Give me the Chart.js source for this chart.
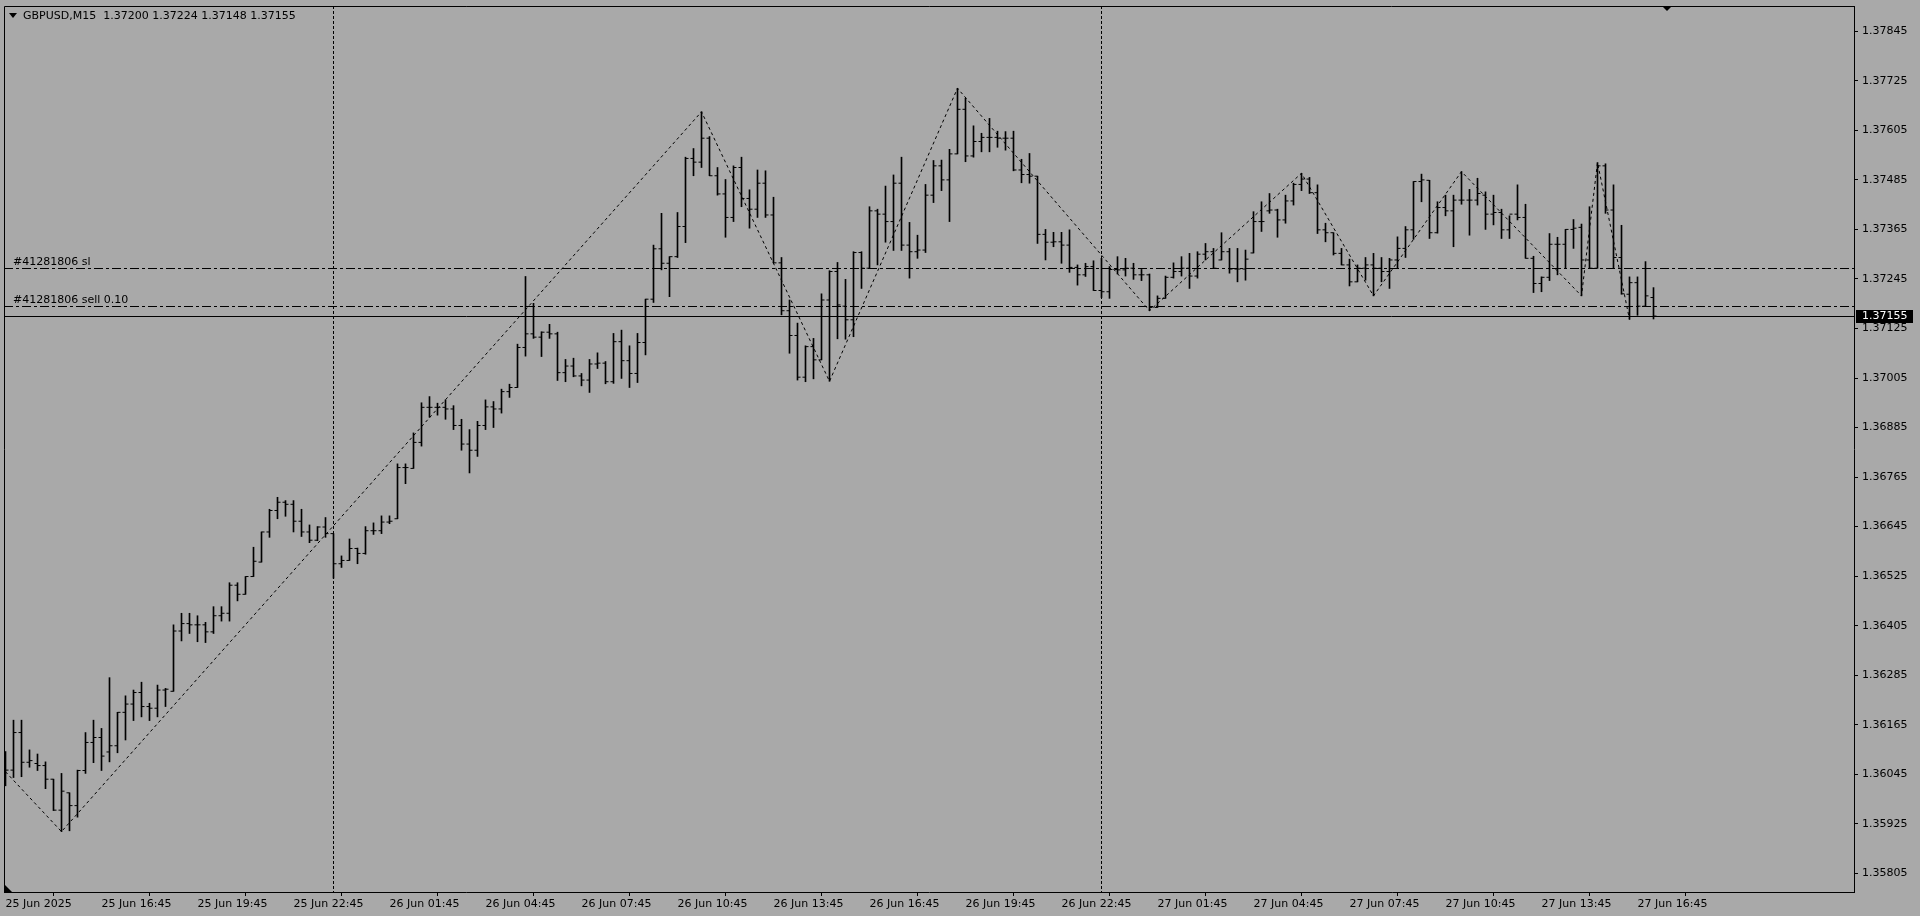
<!DOCTYPE html>
<html><head><meta charset="utf-8">
<script src="https://cdn.jsdelivr.net/npm/chart.js@4.4.1/dist/chart.umd.min.js"></script>
<style>html,body{margin:0;padding:0;background:#a9a9a9;overflow:hidden}canvas{display:block}</style>
</head><body><canvas id="c" width="1920" height="916"></canvas>
<script>
const symbolTitle = 'GBPUSD,M15';
const lastQuote = ['1.37200','1.37224','1.37148','1.37155'];

const openP = [1.36075,1.36055,1.36146,1.36074,1.36071,1.36066,1.36033,1.35958,1.36000,1.35969,
1.36054,1.36122,1.36134,1.36099,1.36114,1.36195,1.36215,1.36243,1.36209,1.36205,
1.36249,1.36246,1.36392,1.36410,1.36407,1.36407,1.36390,1.36429,1.36435,1.36503,
1.36481,1.36524,1.36559,1.36632,1.36684,1.36704,1.36699,1.36658,1.36632,1.36612,
1.36644,1.36628,1.36555,1.36563,1.36592,1.36580,1.36635,1.36635,1.36656,1.36664,
1.36788,1.36786,1.36849,1.36934,1.36934,1.36934,1.36930,1.36890,1.36845,1.36830,
1.36890,1.36935,1.36930,1.36972,1.36982,1.37079,1.37112,1.37104,1.37116,1.37112,
1.37018,1.37034,1.37010,1.37000,1.37039,1.37041,1.36996,1.37093,1.37047,1.37016,
1.37091,1.37196,1.37318,1.37283,1.37299,1.37372,1.37537,1.37528,1.37586,1.37495,
1.37451,1.37394,1.37515,1.37440,1.37414,1.37477,1.37400,1.37284,1.37168,1.37108,
1.37007,1.37081,1.37049,1.37194,1.37263,1.37179,1.37146,1.37309,1.37271,1.37410,
1.37402,1.37384,1.37477,1.37327,1.37311,1.37315,1.37448,1.37519,1.37485,1.37548,
1.37656,1.37543,1.37578,1.37588,1.37588,1.37586,1.37586,1.37509,1.37498,1.37494,
1.37353,1.37334,1.37335,1.37327,1.37273,1.37255,1.37275,1.37217,1.37214,1.37268,
1.37267,1.37271,1.37255,1.37255,1.37176,1.37198,1.37249,1.37263,1.37271,1.37252,
1.37305,1.37311,1.37291,1.37311,1.37269,1.37269,1.37308,1.37384,1.37410,1.37412,
1.37388,1.37434,1.37474,1.37487,1.37454,1.37364,1.37357,1.37307,1.37279,1.37238,
1.37271,1.37279,1.37271,1.37263,1.37291,1.37319,1.37364,1.37481,1.37484,1.37357,
1.37418,1.37410,1.37436,1.37436,1.37436,1.37448,1.37402,1.37406,1.37364,1.37402,
1.37394,1.37295,1.37234,1.37249,1.37329,1.37329,1.37365,1.37370,1.37291,1.37271,
1.37519,1.37412,1.37297,1.37208,1.37236,1.37179,1.37200];

const highP = [1.36100,1.36176,1.36176,1.36104,1.36094,1.36075,1.36033,1.36047,1.36000,1.36055,
1.36146,1.36176,1.36156,1.36279,1.36195,1.36235,1.36249,1.36268,1.36217,1.36261,
1.36253,1.36407,1.36435,1.36435,1.36429,1.36413,1.36451,1.36451,1.36509,1.36509,
1.36524,1.36595,1.36632,1.36687,1.36716,1.36708,1.36708,1.36687,1.36649,1.36645,
1.36667,1.36628,1.36574,1.36615,1.36593,1.36645,1.36654,1.36671,1.36671,1.36797,
1.36797,1.36872,1.36945,1.36960,1.36944,1.36952,1.36938,1.36905,1.36880,1.36900,
1.36952,1.36948,1.36978,1.36990,1.37087,1.37251,1.37186,1.37117,1.37135,1.37116,
1.37050,1.37053,1.37016,1.37050,1.37066,1.37045,1.37113,1.37121,1.37083,1.37113,
1.37196,1.37327,1.37404,1.37299,1.37406,1.37540,1.37561,1.37650,1.37590,1.37515,
1.37486,1.37519,1.37540,1.37461,1.37509,1.37507,1.37443,1.37297,1.37194,1.37138,
1.37083,1.37101,1.37209,1.37265,1.37285,1.37244,1.37311,1.37311,1.37420,1.37414,
1.37470,1.37497,1.37540,1.37382,1.37351,1.37474,1.37532,1.37533,1.37559,1.37707,
1.37683,1.37616,1.37598,1.37634,1.37603,1.37602,1.37603,1.37535,1.37549,1.37494,
1.37365,1.37358,1.37358,1.37364,1.37279,1.37283,1.37289,1.37295,1.37275,1.37299,
1.37295,1.37283,1.37268,1.37257,1.37204,1.37252,1.37284,1.37299,1.37307,1.37311,
1.37331,1.37319,1.37357,1.37319,1.37319,1.37315,1.37408,1.37432,1.37452,1.37414,
1.37448,1.37477,1.37501,1.37491,1.37473,1.37380,1.37357,1.37319,1.37293,1.37279,
1.37297,1.37307,1.37297,1.37295,1.37347,1.37372,1.37481,1.37499,1.37484,1.37432,
1.37448,1.37448,1.37505,1.37462,1.37489,1.37456,1.37448,1.37414,1.37398,1.37473,
1.37426,1.37300,1.37250,1.37355,1.37346,1.37365,1.37389,1.37378,1.37420,1.37527,
1.37524,1.37473,1.37375,1.37250,1.37250,1.37287,1.37224];

const lowP = [1.36017,1.36037,1.36039,1.36062,1.36054,1.36010,1.35957,1.35906,1.35908,1.35941,
1.36047,1.36073,1.36054,1.36075,1.36097,1.36128,1.36175,1.36184,1.36175,1.36184,
1.36209,1.36246,1.36368,1.36386,1.36366,1.36364,1.36386,1.36416,1.36416,1.36465,
1.36481,1.36524,1.36559,1.36619,1.36664,1.36670,1.36632,1.36621,1.36606,1.36611,
1.36619,1.36520,1.36546,1.36563,1.36555,1.36578,1.36626,1.36628,1.36652,1.36664,
1.36749,1.36786,1.36840,1.36910,1.36915,1.36905,1.36880,1.36830,1.36775,1.36815,
1.36880,1.36885,1.36920,1.36958,1.36982,1.37058,1.37101,1.37057,1.37101,1.36999,
1.36996,1.37008,1.36986,1.36970,1.37028,1.36991,1.36992,1.37004,1.36982,1.36994,
1.37061,1.37188,1.37267,1.37202,1.37297,1.37333,1.37495,1.37515,1.37495,1.37448,
1.37346,1.37384,1.37420,1.37368,1.37394,1.37394,1.37284,1.37158,1.37065,1.37000,
1.36996,1.37003,1.37049,1.36997,1.37100,1.37099,1.37105,1.37222,1.37271,1.37279,
1.37334,1.37314,1.37314,1.37247,1.37295,1.37309,1.37430,1.37459,1.37384,1.37548,
1.37529,1.37540,1.37553,1.37553,1.37564,1.37557,1.37507,1.37478,1.37477,1.37331,
1.37291,1.37323,1.37283,1.37261,1.37230,1.37251,1.37217,1.37200,1.37198,1.37257,
1.37252,1.37244,1.37241,1.37168,1.37176,1.37198,1.37247,1.37252,1.37222,1.37247,
1.37291,1.37271,1.37291,1.37259,1.37238,1.37242,1.37308,1.37360,1.37404,1.37346,
1.37380,1.37424,1.37459,1.37452,1.37355,1.37335,1.37303,1.37279,1.37228,1.37238,
1.37242,1.37204,1.37238,1.37222,1.37271,1.37297,1.37341,1.37432,1.37343,1.37356,
1.37398,1.37323,1.37426,1.37351,1.37424,1.37365,1.37376,1.37343,1.37343,1.37388,
1.37295,1.37212,1.37214,1.37241,1.37255,1.37271,1.37319,1.37204,1.37271,1.37271,
1.37404,1.37271,1.37208,1.37147,1.37157,1.37179,1.37148];

const closeP = [1.36055,1.36146,1.36074,1.36078,1.36066,1.36033,1.35958,1.36004,1.35969,1.36054,
1.36122,1.36134,1.36089,1.36114,1.36195,1.36215,1.36243,1.36209,1.36205,1.36249,
1.36251,1.36392,1.36410,1.36407,1.36407,1.36390,1.36429,1.36435,1.36503,1.36481,
1.36524,1.36561,1.36632,1.36684,1.36704,1.36699,1.36658,1.36632,1.36612,1.36644,
1.36628,1.36555,1.36563,1.36592,1.36580,1.36635,1.36635,1.36656,1.36658,1.36788,
1.36788,1.36849,1.36934,1.36934,1.36934,1.36930,1.36890,1.36845,1.36830,1.36890,
1.36935,1.36930,1.36972,1.36982,1.37079,1.37112,1.37104,1.37116,1.37112,1.37018,
1.37034,1.37010,1.37000,1.37039,1.37041,1.36996,1.37093,1.37047,1.37016,1.37091,
1.37196,1.37318,1.37283,1.37299,1.37372,1.37537,1.37528,1.37586,1.37495,1.37451,
1.37394,1.37515,1.37440,1.37414,1.37477,1.37400,1.37284,1.37168,1.37108,1.37007,
1.37081,1.37049,1.37194,1.37263,1.37182,1.37146,1.37309,1.37271,1.37410,1.37402,
1.37384,1.37477,1.37327,1.37311,1.37315,1.37448,1.37519,1.37485,1.37548,1.37656,
1.37543,1.37578,1.37588,1.37588,1.37586,1.37586,1.37509,1.37498,1.37494,1.37353,
1.37334,1.37335,1.37327,1.37273,1.37255,1.37275,1.37217,1.37214,1.37268,1.37267,
1.37271,1.37255,1.37255,1.37176,1.37198,1.37249,1.37263,1.37271,1.37252,1.37305,
1.37311,1.37271,1.37311,1.37269,1.37269,1.37293,1.37384,1.37384,1.37412,1.37388,
1.37434,1.37474,1.37487,1.37454,1.37364,1.37357,1.37307,1.37279,1.37238,1.37271,
1.37279,1.37271,1.37263,1.37291,1.37319,1.37364,1.37481,1.37485,1.37357,1.37418,
1.37410,1.37436,1.37436,1.37436,1.37452,1.37402,1.37406,1.37364,1.37402,1.37394,
1.37295,1.37234,1.37249,1.37329,1.37329,1.37365,1.37368,1.37291,1.37271,1.37519,
1.37412,1.37297,1.37209,1.37236,1.37179,1.37204,1.37155];

const tickBars = [0,12,24,36,48,60,72,84,96,108,120,132,144,156,168,180,192,204];
const tickLabels = ['25 Jun 2025','25 Jun 16:45','25 Jun 19:45','25 Jun 22:45','26 Jun 01:45','26 Jun 04:45',
'26 Jun 07:45','26 Jun 10:45','26 Jun 13:45','26 Jun 16:45','26 Jun 19:45','26 Jun 22:45',
'27 Jun 01:45','27 Jun 04:45','27 Jun 07:45','27 Jun 10:45','27 Jun 13:45','27 Jun 16:45'];
const yTickValues = [1.35805,1.35925,1.36045,1.36165,1.36285,1.36405,1.36525,1.36645,1.36765,
1.36885,1.37005,1.37125,1.37245,1.37365,1.37485,1.37605,1.37725,1.37845];

const zigBars = [0,7,87,103,119,143,162,171,182,197,199,203];
const zigValues = [1.36051,1.35906,1.37650,1.36997,1.37707,1.37168,1.37501,1.37204,1.37505,1.37204,1.37527,1.37147];

const separatorBars = [41,137];
const orderLevels = [1.37272,1.37180];
const orderLabels = ['#41281806 sl','#41281806 sell 0.10'];
const bidPrice = 1.37155;

const Y_MIN = 1.357597, Y_MAX = 1.379063;
const X_MIN = -0.1875, X_MAX = 231.0625;
const FONT = 'DejaVu Sans';

const overlay = {
  id: 'overlay',
  beforeDatasetsDraw(chart) {
    const {ctx, chartArea: a, scales: {x, y}} = chart;
    ctx.save();
    ctx.strokeStyle = '#000';
    ctx.lineWidth = 1;
    ctx.beginPath(); ctx.rect(a.left, a.top, a.right - a.left, a.bottom - a.top); ctx.clip();
    ctx.setLineDash([3, 2]);
    separatorBars.forEach(b => {
      const px = Math.floor(x.getPixelForValue(b)) + 0.5;
      ctx.beginPath(); ctx.moveTo(px, a.top); ctx.lineTo(px, a.bottom); ctx.stroke();
    });
    ctx.setLineDash([9, 3, 3, 3]);
    orderLevels.forEach(v => {
      const py = Math.round(y.getPixelForValue(v)) + 0.5;
      ctx.beginPath(); ctx.moveTo(a.left, py); ctx.lineTo(a.right, py); ctx.stroke();
    });
    ctx.setLineDash([]);
    const by = Math.round(y.getPixelForValue(bidPrice)) + 0.5;
    ctx.beginPath(); ctx.moveTo(a.left, by); ctx.lineTo(a.right, by); ctx.stroke();
    ctx.fillStyle = '#000';
    ctx.font = '11px "' + FONT + '"';
    ctx.textBaseline = 'middle';
    ctx.textAlign = 'left';
    orderLevels.forEach((v, i) => {
      const py = Math.round(y.getPixelForValue(v));
      ctx.fillText(orderLabels[i], 13, py - 6);
    });
    ctx.restore();
  },
  afterDraw(chart) {
    const {ctx, chartArea: a, scales: {y}} = chart;
    ctx.save();
    ctx.strokeStyle = '#000';
    ctx.lineWidth = 1;
    ctx.beginPath();
    ctx.moveTo(a.left + 0.5, a.bottom); ctx.lineTo(a.left + 0.5, a.top + 0.5); ctx.lineTo(a.right, a.top + 0.5);
    ctx.stroke();
    ctx.fillStyle = '#000';
    ctx.beginPath(); ctx.moveTo(9, 13); ctx.lineTo(17, 13); ctx.lineTo(13, 18); ctx.closePath(); ctx.fill();
    ctx.font = '11px "' + FONT + '"';
    ctx.textBaseline = 'middle';
    ctx.textAlign = 'left';
    ctx.fillText(symbolTitle + '  ' + lastQuote.join(' '), 23, 16.5);
    ctx.beginPath(); ctx.moveTo(1662, a.top); ctx.lineTo(1672, a.top); ctx.lineTo(1667, a.top + 5); ctx.closePath(); ctx.fill();
    ctx.beginPath(); ctx.moveTo(a.left, a.bottom - 8); ctx.lineTo(a.left, a.bottom); ctx.lineTo(a.left + 8, a.bottom); ctx.closePath(); ctx.fill();
    const py = Math.round(y.getPixelForValue(bidPrice));
    ctx.fillStyle = '#000';
    ctx.fillRect(a.right + 2, py - 6, 57, 13);
    ctx.fillStyle = '#fff';
    ctx.fillText(bidPrice.toFixed(5), a.right + 8, py + 0.5);
    ctx.restore();
  }
};

const idx = closeP.map((_, i) => i);

new Chart(document.getElementById('c'), {
  type: 'bar',
  data: {
    datasets: [
      {
        type: 'line', label: 'ZigZag',
        data: zigBars.map((b, i) => ({x: b, y: zigValues[i]})),
        borderColor: '#000', borderWidth: 1, borderDash: [3, 3],
        pointRadius: 0, tension: 0, fill: false, order: 3
      },
      {
        type: 'bar', label: 'HL',
        data: idx.map(i => ({x: i, y: [lowP[i], highP[i]]})),
        backgroundColor: '#000', borderWidth: 0, barThickness: 1, grouped: false, order: 2
      },
      {
        type: 'line', label: 'Open',
        data: idx.map(i => ({x: i, y: openP[i]})),
        showLine: false, pointStyle: 'dash', pointRadius: 3, pointRotation: 180,
        pointBorderColor: '#000', pointBorderWidth: 1, pointHoverRadius: 0, pointHitRadius: 0, order: 1
      },
      {
        type: 'line', label: 'Close',
        data: idx.map(i => ({x: i, y: closeP[i]})),
        showLine: false, pointStyle: 'dash', pointRadius: 3, pointRotation: 0,
        pointBorderColor: '#000', pointBorderWidth: 1, pointHoverRadius: 0, pointHitRadius: 0, order: 1
      }
    ]
  },
  options: {
    responsive: false,
    animation: false,
    devicePixelRatio: 1,
    events: [],
    layout: {padding: {left: 4, top: 6, right: 0, bottom: 0}},
    plugins: {legend: {display: false}, tooltip: {enabled: false}},
    scales: {
      x: {
        type: 'linear', min: X_MIN, max: X_MAX, offset: false,
        afterBuildTicks: s => { s.ticks = tickBars.map(v => ({value: v})); },
        afterFit: s => { s.height = 24; s.paddingLeft = 0; s.paddingRight = 0; s.paddingTop = 0; s.paddingBottom = 0; },
        ticks: {
          autoSkip: false, maxRotation: 0, minRotation: 0, align: 'start', padding: 2,
          color: '#000', font: {family: FONT, size: 11},
          callback: (v, i) => tickLabels[i]
        },
        grid: {drawOnChartArea: false, drawTicks: true, tickLength: 4, color: '#000'},
        border: {display: true, color: '#000', width: 1}
      },
      y: {
        type: 'linear', position: 'right', min: Y_MIN, max: Y_MAX,
        afterBuildTicks: s => { s.ticks = yTickValues.map(v => ({value: v})); },
        afterFit: s => { s.width = 66; s.paddingTop = 0; s.paddingBottom = 0; s.paddingLeft = 0; s.paddingRight = 0; },
        ticks: {
          padding: 4, color: '#000', font: {family: FONT, size: 11, lineHeight: 1},
          callback: v => Number(v).toFixed(5)
        },
        grid: {drawOnChartArea: false, drawTicks: true, tickLength: 4, color: '#000'},
        border: {display: true, color: '#000', width: 1}
      }
    }
  },
  plugins: [overlay]
});
</script>
</body></html>
